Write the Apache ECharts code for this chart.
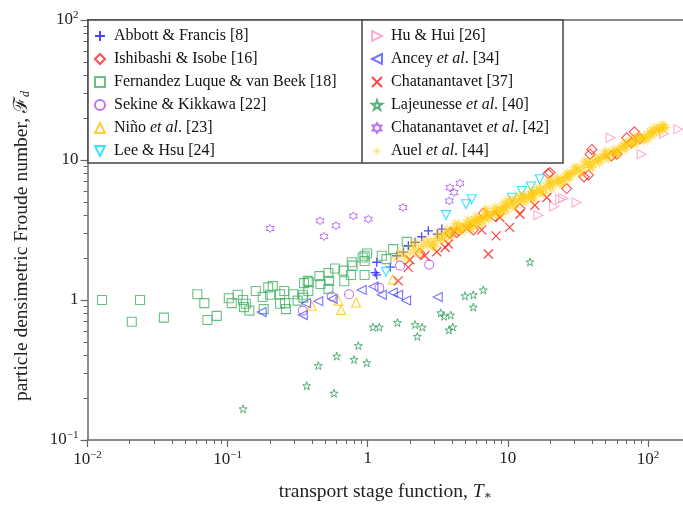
<!DOCTYPE html>
<html><head><meta charset="utf-8">
<script src="https://cdn.jsdelivr.net/npm/echarts@6/dist/echarts.min.js"></script>
<style>html,body{margin:0;padding:0;background:#fff}#c{width:683px;height:507px}</style>
</head><body><div id="c"></div>
<script>
const abbott = [[1.13,1.57],[1.16,1.51],[1.16,1.86],[1.45,1.72],[1.61,2.07],[1.8,2.2],[1.95,2.44],[2.18,2.58],[2.43,2.83],[2.71,3.12],[3.14,2.95],[3.38,3.21]];
const ishibashi = [[2.36,2.15],[3.86,3.0],[4.32,3.03],[5.68,3.17],[6.68,4.17],[8.1,3.98],[12.2,4.5],[19.4,8.0],[20.0,8.13],[26.3,6.25],[35,7.56],[37.6,7.8],[38.6,11.0],[39.8,11.9],[55,10.7],[60,11.0],[70.6,14.4],[76.6,13.3],[80,15.9],[87.7,14.2]];
const fernandez = [[0.0127,1.0],[0.0237,1.0],[0.0207,0.70],[0.0351,0.748],[0.0608,1.10],[0.0682,0.95],[0.0717,0.72],[0.0836,0.77],[0.102,1.03],[0.107,0.95],[0.118,1.09],[0.129,1.0],[0.135,0.94],[0.131,0.89],[0.143,0.84],[0.159,1.16],[0.178,1.05],[0.181,0.86],[0.195,1.23],[0.21,1.26],[0.201,1.09],[0.237,1.10],[0.254,1.16],[0.237,0.94],[0.257,0.95],[0.261,0.86],[0.294,1.10],[0.316,0.99],[0.347,1.04],[0.351,1.32],[0.38,1.34],[0.377,1.16],[0.373,1.37],[0.344,1.09],[0.452,1.48],[0.46,1.30],[0.524,1.56],[0.53,1.37],[0.524,1.2],[0.585,1.68],[0.67,1.62],[0.68,1.36],[0.76,1.51],[0.78,1.76],[0.77,1.86],[0.92,2.01],[0.99,2.15],[0.95,1.51],[0.95,1.9],[0.95,2.07],[1.26,2.07],[1.36,1.96],[1.52,2.31],[1.9,2.6]];
const sekine = [[0.344,0.84],[0.553,1.06],[0.736,1.1],[1.21,1.22],[1.70,1.76],[2.75,1.79]];
const nino = [[0.398,0.91],[0.617,0.99],[0.646,0.85],[0.826,0.96],[1.51,1.40]];
const lee = [[1.35,1.59],[3.62,4.04],[5.03,4.83],[5.52,5.25],[10.7,5.37],[12.6,6.0],[14.6,6.46],[16.9,7.28]];
const hu = [[16.5,4.03],[21.4,4.65],[23.6,5.25],[24.9,5.33],[31,4.97],[54.2,14.4],[90.4,11.0],[130,15.4],[165,16.6]];
const ancey = [[0.175,0.82],[0.344,0.78],[0.363,0.95],[0.444,0.98],[0.562,1.02],[0.906,1.18],[1.10,1.25],[1.26,1.09],[1.51,1.13],[1.65,1.09],[1.88,0.99],[3.16,1.05]];
const chat37 = [[1.65,1.37],[1.95,1.71],[2.0,1.94],[2.56,2.07],[3.11,2.21],[3.57,2.37],[3.76,2.51],[4.2,3.07],[5.09,3.25],[6.51,3.17],[7.26,2.13],[8.24,2.87],[8.79,3.88],[10.3,3.3],[12.2,4.1],[15.6,4.75],[19,5.4]];
const lajeunesse = [[0.129,0.167],[0.367,0.244],[0.444,0.34],[0.575,0.216],[0.601,0.397],[0.799,0.376],[0.857,0.472],[0.984,0.356],[1.09,0.64],[1.21,0.64],[1.63,0.69],[2.18,0.667],[2.26,0.55],[2.45,0.64],[3.32,0.81],[3.51,0.765],[3.91,0.78],[3.8,0.61],[4.05,0.64],[4.94,1.07],[5.67,1.09],[5.67,0.89],[6.68,1.18],[14.4,1.87]];
const chat42 = [[0.201,3.24],[0.457,3.68],[0.488,2.84],[0.594,3.39],[0.79,3.98],[1.01,3.78],[1.79,4.58],[3.82,5.1],[3.86,6.35],[4.13,5.86],[4.56,6.82]];
const auel = [[1.6,2.0],[1.8,2.1],[2.0,2.2],[2.2,2.3],[2.4,2.35],[2.5,2.5],[2.7,2.45],[2.8,2.6],[3.0,2.6],[3.1,2.75],[3.3,2.8],[3.5,2.85],[3.6,3.0],[3.8,2.95],[4.0,3.1],[4.1,3.2],[4.3,3.15],[4.5,3.3],[4.6,3.2],[4.8,3.4],[5.0,3.35],[5.1,3.5],[5.3,3.45],[5.5,3.6],[5.6,3.5],[5.8,3.7],[6.0,3.65],[6.2,3.8],[6.4,3.75],[6.6,3.9],[6.8,3.85],[7.0,4.05],[7.2,4.0],[7.5,4.15],[7.8,4.1],[8.0,4.3],[8.3,4.25],[8.6,4.45],[8.9,4.4],[9.2,4.6],[9.5,4.55],[9.8,4.75],[10,4.7],[10.5,4.9],[11,4.85],[11.5,5.1],[12,5.05],[12.5,5.3],[13,5.25],[13.5,5.5],[14,5.45],[14.5,5.7],[15,5.65],[15.5,5.9],[16,5.85],[17,6.1],[18,6.3],[19,6.5],[20,6.6],[21,6.8],[22,7.0],[23,7.1],[24,7.3],[25,7.4],[26,7.6],[27,7.8],[28,7.9],[29,8.1],[30,8.2],[32,8.5],[34,8.8],[36,9.1],[38,9.3],[40,9.6],[42,9.8],[44,10.0],[46,10.3],[48,10.5],[50,10.7],[53,11.0],[56,11.3],[59,11.6],[62,11.9],[65,12.2],[68,12.5],[71,12.7],[75,13.1],[79,13.4],[83,13.8],[87,14.1],[91,14.4],[95,14.7],[100,15.1],[105,15.5],[110,15.9],[115,16.2],[120,16.6],[125,16.9],[130,17.2],
  [3.0,2.4],[4.2,3.5],[5.5,3.2],[7.0,4.5],[9.0,4.1],[12,5.6],[15,5.2],[20,7.2],[25,6.8],[30,8.9],[40,8.9],[50,11.6],[60,11.0],[80,14.8],[100,14.0],[2.2,2.6],[6.5,3.5],[10,5.2],[18,5.8],[35,9.8],[70,13.5],[110,17.0],
  [1.7,2.2],[1.9,1.95],[2.1,2.45],[2.3,2.15],[2.6,2.7],[2.9,2.4],[3.2,3.0],[3.4,2.65],[3.7,3.2],[3.9,2.8],[4.4,3.5],[4.7,3.05],[5.2,3.75],[5.4,3.25],[5.9,3.95],[6.1,3.45],[6.9,4.3],[7.3,3.75],[8.1,4.6],[8.5,4.05],[9.4,4.95],[9.7,4.3],[10.8,5.25],[11.2,4.55],[12.8,5.6],[13.3,4.95],[14.8,6.1],[15.3,5.35],[16.5,6.4],[17.5,5.75],[19.5,6.95],[20.5,6.2],[22.5,7.5],[23.5,6.7],[26.5,8.1],[27.5,7.3],[31,8.8],[33,7.95],[37,9.7],[39,8.8],[43,10.4],[45,9.5],[49,11.1],[52,10.2],[57,11.8],[61,11.2],[66,12.8],[69,11.9],[76,13.7],[81,12.9],[88,14.7],[93,13.8],[103,16.0],[108,15.0],[118,17.2],[123,16.0],[128,18.0],[134,17.0]];
const xTickValues = [0.01,0.1,1,10,100];
const yTickValues = [0.1,1,10,100];

const SERIF = '"Liberation Serif","DejaVu Serif",serif';
const P = {
  plus: 'path://M50,0L50,100M0,50L100,50',
  cross: 'path://M0,0L100,100M100,0L0,100',
  star5: 'path://M50,0L61.2,34.5L97.6,34.5L68.2,55.9L79.4,90.5L50,69.1L20.6,90.5L31.8,55.9L2.4,34.5L38.8,34.5Z',
  hexa: 'path://M50,0L64.4,25L93.3,25L78.9,50L93.3,75L64.4,75L50,100L35.6,75L6.7,75L21.1,50L6.7,25L35.6,25Z',
  tri_r: 'path://M0,0L100,50L0,100Z',
  tri_l: 'path://M100,0L0,50L100,100Z',
  tri_d: 'path://M0,0L100,0L50,100Z',
  ast: 'path://M100,50L66.2,56.7L85.4,85.4L56.7,66.2L50,100L43.3,66.2L14.6,85.4L33.8,56.7L0,50L33.8,43.3L14.6,14.6L43.3,33.8L50,0L56.7,33.8L85.4,14.6L66.2,43.3Z'
};
function open(name, data, symbol, size, col, bw){
  return {name, type:'scatter', data, symbol, symbolSize:size,
    itemStyle:{color:'rgba(0,0,0,0)', borderColor:col, borderWidth:bw||1.1}};
}
const series = [
  open('Abbott & Francis [8]', abbott, P.plus, 9, '#1a1aff', 1.3),
  open('Ishibashi & Isobe [16]', ishibashi, 'diamond', 10, '#ff2020'),
  open('Fernandez Luque & van Beek [18]', fernandez, 'rect', 9, '#45b065'),
  open('Sekine & Kikkawa [22]', sekine, 'circle', 9, '#b050f0'),
  open('Niño et al. [23]', nino, 'triangle', 9, '#ffc400'),
  open('Lee & Hsu [24]', lee, P.tri_d, 9, '#00dcff'),
  open('Hu & Hui [26]', hu, P.tri_r, 9, '#ff99cc'),
  open('Ancey et al. [34]', ancey, P.tri_l, 9, '#5050ff'),
  open('Chatanantavet [37]', chat37, P.cross, 9, '#ff1a1a', 1.3),
  open('Lajeunesse et al. [40]', lajeunesse, P.star5, 8, '#2e9e5a', 1),
  open('Chatanantavet et al. [42]', chat42, P.hexa, 8, '#a050f0', 1),
  {name:'Auel et al. [44]', type:'scatter', data:auel, symbol:P.ast, symbolSize:13,
   itemStyle:{color:'rgba(255,200,0,0.6)', borderWidth:0}}
];
const names = series.map(s=>s.name);
function fmtPow(v){
  const l = Math.log10(v), e = Math.round(l);
  if (Math.abs(l-e) > 1e-6) return '';
  if (e===0) return '{b|1}';
  if (e===1) return '{b|10}';
  return '{b|10}{s|' + (e<0?'−':'') + Math.abs(e) + '}';
}
const labRich = {
  b:{fontFamily:SERIF, fontSize:17, color:'#222'},
  s:{fontFamily:SERIF, fontSize:11, color:'#222', verticalAlign:'top', padding:[0,0,9,0]}
};
const minorX = [], minorY = [];
for (let e=-2; e<=2; e++) for (let m=2; m<=9; m++){ const v=m*Math.pow(10,e); if (v<178) minorX.push(+v.toPrecision(3)); }
for (let e=-1; e<=1; e++) for (let m=2; m<=9; m++){ minorY.push(+(m*Math.pow(10,e)).toPrecision(3)); }
const axCol = '#666';
const legText = {fontFamily:SERIF, fontSize:16, color:'#111', padding:[0,0,0,4],
  rich:{i:{fontFamily:SERIF, fontSize:16, fontStyle:'italic', color:'#111'}}};
function legFmt(n){ return n.replace('et al', '{i|et al}'); }
const chart = echarts.init(document.getElementById('c'), null, {renderer:'canvas'});
chart.setOption({
  animation:false,
  grid:{left:87.5, top:20, right:0, bottom:65.5, containLabel:false},
  xAxis:[
    {type:'log', min:0.01, max:178, logBase:10,
     axisLine:{show:true, lineStyle:{color:axCol, width:1.5}},
     axisTick:{show:true, length:7, lineStyle:{color:axCol, width:1.2}, customValues:xTickValues},
     axisLabel:{formatter:fmtPow, rich:labRich, margin:10, customValues:xTickValues},
     splitLine:{show:false}, minorTick:{show:false},
     name:'transport stage function, {i|T}{sub|∗}', nameLocation:'middle', nameGap:42,
     nameTextStyle:{fontFamily:SERIF, fontSize:19.5, color:'#222',
       rich:{i:{fontFamily:SERIF, fontSize:19.5, fontStyle:'italic', color:'#222'},
             sub:{fontFamily:SERIF, fontSize:12, color:'#222', verticalAlign:'bottom', padding:[7,0,0,0]}}}},
    {type:'log', min:0.01, max:178, position:'bottom',
     axisLine:{show:false}, axisLabel:{show:false},
     axisTick:{show:true, length:4, lineStyle:{color:axCol, width:1}, customValues:minorX},
     splitLine:{show:false}},
    {type:'log', min:0.01, max:178, position:'top',
     axisLine:{show:true, lineStyle:{color:axCol, width:1.5}}, axisLabel:{show:false},
     axisTick:{show:false}, splitLine:{show:false}}
  ],
  yAxis:[
    {type:'log', min:0.1, max:100, logBase:10,
     axisLine:{show:true, lineStyle:{color:axCol, width:1.5}},
     axisTick:{show:true, length:7, lineStyle:{color:axCol, width:1.2}, customValues:yTickValues},
     axisLabel:{formatter:fmtPow, rich:labRich, margin:9, customValues:yTickValues},
     splitLine:{show:false},
     name:'particle densimetric Froude number, {i|ℱ}{sub|d}', nameLocation:'middle', nameGap:56, nameRotate:90,
     nameTextStyle:{fontFamily:SERIF, fontSize:19.5, color:'#222', padding:[0,32,0,0],
       rich:{i:{fontFamily:SERIF, fontSize:19.5, color:'#222'},
             sub:{fontFamily:SERIF, fontSize:12, fontStyle:'italic', color:'#222', verticalAlign:'bottom', padding:[7,0,0,0]}}}},
    {type:'log', min:0.1, max:100, position:'left',
     axisLine:{show:false}, axisLabel:{show:false},
     axisTick:{show:true, length:4, lineStyle:{color:axCol, width:1}, customValues:minorY},
     splitLine:{show:false}}
  ],
  legend:[
    {data:names.slice(0,6), orient:'vertical', left:94, top:28, padding:0, itemWidth:10, itemHeight:10, itemGap:7,
     textStyle:legText, formatter:legFmt, selectedMode:false},
    {data:names.slice(6), orient:'vertical', left:371, top:28, padding:0, itemWidth:10, itemHeight:10, itemGap:7,
     textStyle:legText, formatter:legFmt, selectedMode:false}
  ],
  graphic:[
    {type:'rect', shape:{x:88, y:20, width:475, height:143}, style:{fill:'#fff', stroke:'#444', lineWidth:1.5}, z:3},
    {type:'line', shape:{x1:362, y1:20, x2:362, y2:163}, style:{stroke:'#444', lineWidth:1.5}, z:3}
  ],
  series: series
});
</script></body></html>
